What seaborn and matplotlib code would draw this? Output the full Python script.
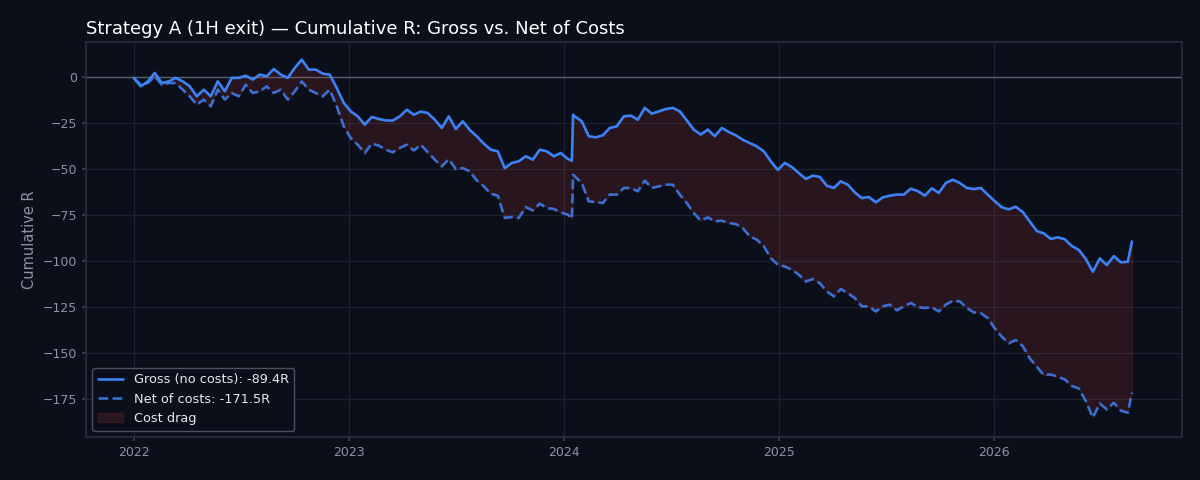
import pandas as pd
import numpy as np
import seaborn as sns
import matplotlib
matplotlib.use("Agg")
from matplotlib import pyplot as plt
import matplotlib.dates as mdates

# * Cumulative R at ~12 day steps (2022-01-01 .. 2026-08-16)
gross_r = [
    -0.5, -5.1, -2.4, 2.2, -3.3, -2.4, -0.5, -2.4, -5.1, -10.5,
    -6.9, -10.5, -2.4, -7.8, -0.5, -0.5, 0.7, -1.4, 1.3, 0.4,
    4.3, 1.3, -0.5, 4.9, 9.4, 4.0, 4.0, 1.8, 1.3, -6.0,
    -14.1, -18.7, -21.4, -25.9, -21.7, -22.8, -23.6, -23.7, -21.4, -17.8,
    -20.5, -18.8, -19.6, -23.2, -27.7, -21.4, -28.3, -24.1, -28.8, -32.2,
    -36.2, -39.5, -40.4, -49.5, -46.7, -45.8, -43.1, -44.9, -39.5, -40.4,
    -43.1, -41.3, -44.5, -21.4, -24.1, -32.2, -32.8, -31.7, -27.7, -26.8,
    -21.4, -21.0, -23.2, -16.8, -19.9, -18.7, -17.4, -16.8, -18.7, -23.6,
    -28.6, -31.3, -28.6, -32.2, -27.7, -29.9, -31.7, -34.1, -35.9, -37.7,
    -40.4, -45.8, -50.5, -46.7, -48.9, -52.2, -55.4, -53.6, -54.3, -59.1,
    -60.3, -56.7, -58.5, -62.7, -65.8, -65.2, -68.1, -65.4, -64.5, -63.9,
    -63.9, -60.7, -62.0, -64.5, -60.5, -63.0, -57.6, -55.8, -57.6, -60.3,
    -60.9, -60.3, -64.0, -67.5, -70.8, -71.9, -70.5, -73.4, -78.6, -83.7,
    -85.0, -88.0, -87.1, -88.2, -91.8, -94.0, -98.9, -105.8, -98.6, -102.2,
    -97.3, -100.7, -100.4,
]
net_r = [
    -0.5, -4.2, -3.3, 0.4, -4.2, -3.3, -3.3, -6.9, -10.5, -15.0,
    -12.3, -15.9, -6.9, -12.3, -8.7, -10.5, -4.2, -8.7, -7.8, -5.1,
    -8.7, -6.9, -12.3, -7.8, -2.4, -6.9, -8.7, -10.5, -6.9, -15.9,
    -26.8, -33.2, -36.8, -41.3, -36.2, -37.3, -39.5, -40.9, -38.6, -36.8,
    -39.9, -36.8, -40.9, -44.9, -48.6, -44.6, -50.0, -49.5, -51.3, -56.2,
    -59.4, -63.4, -64.5, -76.6, -76.1, -76.6, -70.7, -72.5, -68.8, -71.2,
    -71.7, -73.6, -74.8, -54.0, -57.6, -67.6, -67.9, -68.5, -63.9, -63.9,
    -60.3, -60.3, -62.1, -56.3, -60.3, -59.4, -58.5, -58.5, -63.9, -68.5,
    -73.9, -78.1, -76.3, -78.4, -78.1, -79.3, -79.9, -82.1, -86.6, -88.4,
    -92.0, -98.4, -102.0, -103.0, -104.7, -107.4, -111.1, -109.8, -112.0, -116.5,
    -119.2, -115.2, -117.4, -120.1, -124.6, -124.6, -127.4, -124.6, -123.7, -126.8,
    -124.6, -122.8, -125.0, -125.5, -125.2, -127.4, -123.7, -121.6, -121.9, -125.5,
    -127.9, -128.3, -131.0, -136.6, -141.1, -144.7, -142.9, -146.2, -152.9, -157.4,
    -162.0, -161.6, -162.9, -164.3, -167.9, -169.2, -176.1, -185.0, -177.4, -180.6,
    -177.0, -181.3, -182.4,
]

# * the two steep steps (jan 2024 jump and the last trade)
extra_dates = ["2024-01-15", "2024-01-17", "2026-08-23"]
extra_gross = [-45.5, -20.5, -89.4]
extra_net = [-77.0, -53.1, -171.5]

# build one frame sorted by date
grid = pd.date_range("2022-01-01", "2026-08-16", periods=len(gross_r))
df = pd.DataFrame({"date": list(grid) + list(pd.to_datetime(extra_dates)),
                   "gross": gross_r + extra_gross,
                   "net": net_r + extra_net}).sort_values("date").reset_index(drop=True)

# * colours
bg = "#0b0f19"
grid_c = "#1d2330"
text_c = "#8b93a3"
blue = "#3b82f6"
blue_net = "#3b6fd2"
red = "#ef4444"

sns.set_theme(style="darkgrid", rc={
    "figure.facecolor": bg,
    "axes.facecolor": bg,
    "axes.edgecolor": "#262d3a",
    "grid.color": grid_c,
    "grid.linewidth": 0.8,
    "xtick.color": text_c,
    "ytick.color": text_c,
    "axes.labelcolor": text_c,
    "xtick.bottom": True,
    "ytick.left": True,
})
plt.rcParams["font.family"] = ["DejaVu Sans"]

fig, ax = plt.subplots(figsize=(12, 4.8), dpi=100)
fig.subplots_adjust(left=0.0717, right=0.985, top=0.9125, bottom=0.0896)

ax.axhline(0, color="#5a6270", linewidth=1.0, zorder=1)

# shaded gap between gross and net
ax.fill_between(df["date"], df["gross"], df["net"], color=red, alpha=0.13,
                label="Cost drag", zorder=2)

sns.lineplot(data=df, x="date", y="gross", ax=ax, color=blue, linewidth=1.9,
             label=f"Gross (no costs): {extra_gross[-1]:.1f}R", zorder=4)
sns.lineplot(data=df, x="date", y="net", ax=ax, color=blue_net, linewidth=1.9,
             linestyle="--", label=f"Net of costs: {extra_net[-1]:.1f}R", zorder=3)

ax.set_xlim(pd.Timestamp("2021-10-12"), pd.Timestamp("2026-11-16"))
ax.set_ylim(-195.6, 19.0)
ax.xaxis.set_major_locator(mdates.YearLocator())
ax.xaxis.set_major_formatter(mdates.DateFormatter("%Y"))
ax.tick_params(axis="both", labelsize=9, length=3, color="#3a4150")

ax.set_xlabel("")
ax.set_ylabel("Cumulative R", fontsize=10.5)
ax.set_title("Strategy A (1H exit) — Cumulative R: Gross vs. Net of Costs",
             loc="left", color="white", fontsize=13)

for s in ax.spines.values():
    s.set_color("#262d3a")

# legend order: gross, net, drag
h, l = ax.get_legend_handles_labels()
order = [i for i, x in enumerate(l) if x.startswith("Gross")] + \
        [i for i, x in enumerate(l) if x.startswith("Net")] + \
        [l.index("Cost drag")]
ax.legend([h[i] for i in order], [l[i] for i in order], loc="lower left",
          fontsize=9.3, facecolor=bg, edgecolor="#4a5160", labelcolor="#e5e7eb",
          framealpha=1.0)

fig.savefig("out.png", dpi=100, facecolor=bg)
